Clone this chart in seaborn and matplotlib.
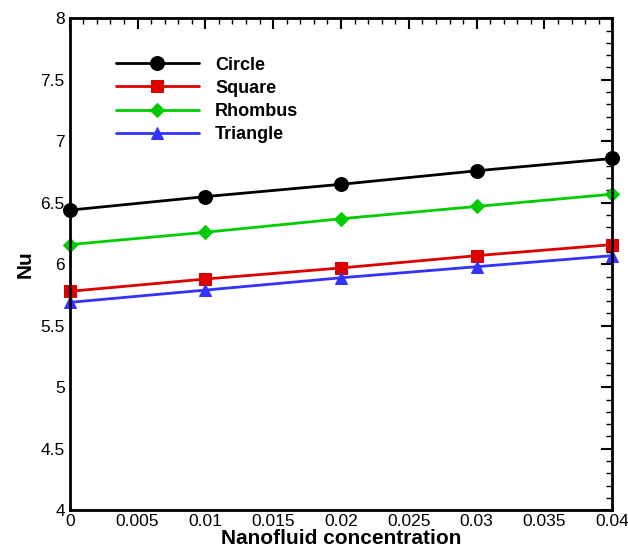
import matplotlib
matplotlib.use("Agg")
import matplotlib.pyplot as plt
import seaborn as sns
import pandas as pd
from matplotlib.ticker import MultipleLocator

concentration = [0.0, 0.01, 0.02, 0.03, 0.04]
circle = [6.44, 6.55, 6.65, 6.76, 6.86]
square = [5.78, 5.88, 5.97, 6.07, 6.16]
rhombus = [6.16, 6.26, 6.37, 6.47, 6.57]
triangle = [5.69, 5.79, 5.89, 5.98, 6.07]

series_names = ["Circle", "Square", "Rhombus", "Triangle"]
colors = ["#000000", "#dd0000", "#00cc00", "#3333ff"]
markers = ["o", "s", "D", "^"]
msizes = [10, 8.5, 7, 8]

sns.set_style("white")
plt.rcParams['font.family'] = ['Liberation Sans', 'DejaVu Sans']
plt.rcParams['text.color'] = 'black'
plt.rcParams['axes.labelcolor'] = 'black'
plt.rcParams['xtick.color'] = 'black'
plt.rcParams['ytick.color'] = 'black'

rows = []
for name, vals in zip(series_names, [circle, square, rhombus, triangle]):
    for x, y in zip(concentration, vals):
        rows.append({"x": x, "Nu": y, "shape": name})
df = pd.DataFrame(rows)

fig = plt.figure(figsize=(6.28, 5.54), dpi=100)
ax = fig.add_axes([0.111, 0.079, 0.864, 0.888])

for name, c, m, ms in zip(series_names, colors, markers, msizes):
    sub = df[df["shape"] == name]
    sns.lineplot(data=sub, x="x", y="Nu", ax=ax, color=c, marker=m,
                 markersize=ms, markeredgecolor=c, linewidth=2, label=name,
                 clip_on=False, zorder=5)

ax.set_xlim(0, 0.04)
ax.set_ylim(4, 8)
ax.xaxis.set_minor_locator(MultipleLocator(0.001))
ax.yaxis.set_minor_locator(MultipleLocator(0.1))
ax.set_xticks([0, 0.005, 0.01, 0.015, 0.02, 0.025, 0.03, 0.035, 0.04])
ax.set_xticklabels(["0", "0.005", "0.01", "0.015", "0.02", "0.025", "0.03", "0.035", "0.04"])
ax.set_yticks([4, 4.5, 5, 5.5, 6, 6.5, 7, 7.5, 8])
ax.set_yticklabels(["4", "4.5", "5", "5.5", "6", "6.5", "7", "7.5", "8"])
ax.tick_params(which="both", direction="in", top=True, right=True, labelsize=12.5, width=1.5)
ax.tick_params(which="major", length=8)
ax.tick_params(which="minor", length=4, width=1)
ax.tick_params(axis="x", pad=3)
for s in ax.spines.values():
    s.set_linewidth(2)
    s.set_color("black")
    s.set_zorder(6)

ax.set_xlabel("Nanofluid concentration", fontsize=15, fontweight="bold", labelpad=0)
ax.set_ylabel("Nu", fontsize=15, fontweight="bold", labelpad=4)

leg = ax.legend(loc="upper left", bbox_to_anchor=(0.055, 0.955), frameon=False,
                prop={"weight": "bold", "size": 13}, handlelength=4.6,
                handletextpad=0.9, labelspacing=0.34)

fig.savefig("out.png", dpi=100)
